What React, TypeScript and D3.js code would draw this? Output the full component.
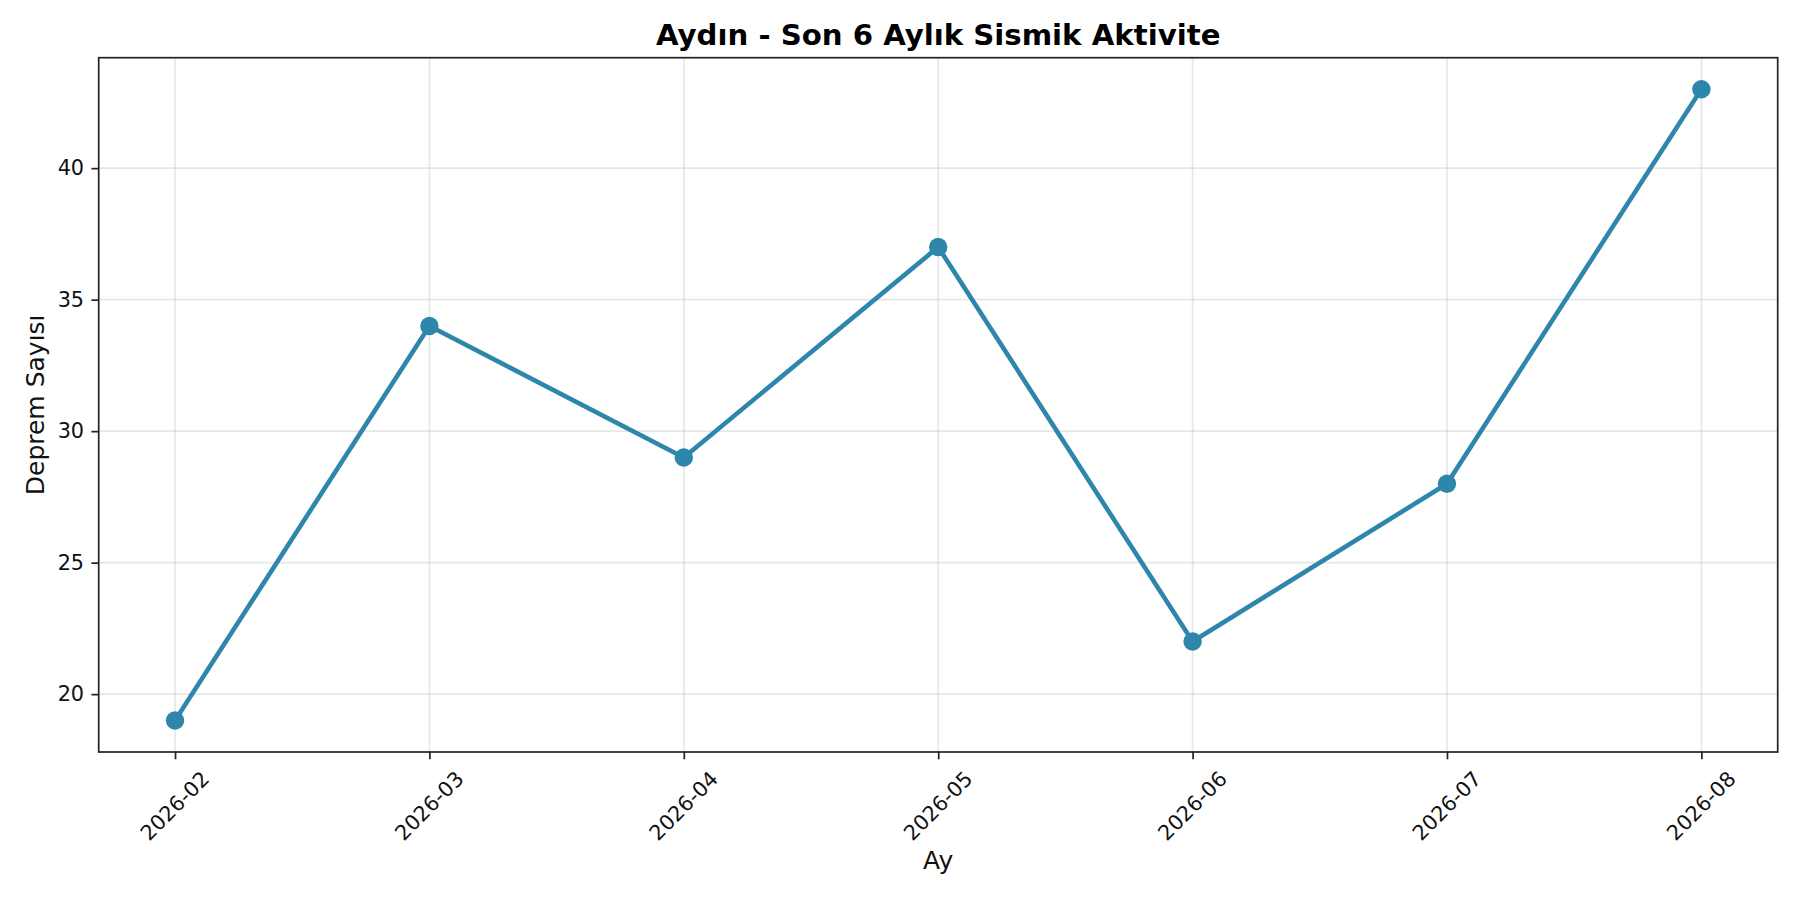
import React, { useRef, useEffect } from 'react';
import * as d3 from 'd3';

const months = ['2026-02', '2026-03', '2026-04', '2026-05', '2026-06', '2026-07', '2026-08'];
const counts = [19, 34, 29, 37, 22, 28, 43];
const yTicks = [20, 25, 30, 35, 40];

const WIDTH = 1800;
const HEIGHT = 900;
const LINE_COLOR = '#2E86AB';
const FONT = '"DejaVu Sans", Verdana, sans-serif';

const App: React.FC = () => {
  const svgRef = useRef<SVGSVGElement>(null);

  useEffect(() => {
    if (!svgRef.current) return;
    const svg = d3.select(svgRef.current);
    svg.selectAll('*').remove();

    const margin = { top: 57.7, right: 22.3, bottom: 148, left: 98.7 };
    const w = WIDTH - margin.left - margin.right;
    const h = HEIGHT - margin.top - margin.bottom;

    // months are evenly spaced categories, 5% padding on both ends
    const xScale = d3.scalePoint<string>()
      .domain(months)
      .range([0, w])
      .padding(0.3);

    const yMin = d3.min(counts)!;
    const yMax = d3.max(counts)!;
    const yPad = (yMax - yMin) * 0.05;
    const yScale = d3.scaleLinear()
      .domain([yMin - yPad, yMax + yPad])
      .range([h, 0]);

    const g = svg.append('g')
      .attr('transform', `translate(${margin.left},${margin.top})`);

    // Grid
    g.append('g')
      .selectAll('line')
      .data(yTicks)
      .join('line')
      .attr('x1', 0)
      .attr('x2', w)
      .attr('y1', d => yScale(d))
      .attr('y2', d => yScale(d))
      .attr('stroke', '#b0b0b0')
      .attr('stroke-opacity', 0.3)
      .attr('stroke-width', 1.7);

    g.append('g')
      .selectAll('line')
      .data(months)
      .join('line')
      .attr('x1', d => xScale(d)!)
      .attr('x2', d => xScale(d)!)
      .attr('y1', 0)
      .attr('y2', h)
      .attr('stroke', '#b0b0b0')
      .attr('stroke-opacity', 0.3)
      .attr('stroke-width', 1.7);

    // Line + markers
    const line = d3.line<number>()
      .x((d, i) => xScale(months[i])!)
      .y(d => yScale(d));

    g.append('path')
      .datum(counts)
      .attr('d', line)
      .attr('fill', 'none')
      .attr('stroke', LINE_COLOR)
      .attr('stroke-width', 4.6)
      .attr('stroke-linejoin', 'round')
      .attr('stroke-linecap', 'round');

    g.append('g')
      .selectAll('circle')
      .data(counts)
      .join('circle')
      .attr('cx', (d, i) => xScale(months[i])!)
      .attr('cy', d => yScale(d))
      .attr('r', 9.2)
      .attr('fill', LINE_COLOR);

    // Frame
    g.append('rect')
      .attr('x', 0)
      .attr('y', 0)
      .attr('width', w)
      .attr('height', h)
      .attr('fill', 'none')
      .attr('stroke', '#222')
      .attr('stroke-width', 1.7);

    // Y axis ticks
    const yAxis = g.append('g')
      .call(d3.axisLeft(yScale).tickValues(yTicks).tickSize(7.3).tickPadding(7.3).tickFormat(d3.format('d')));
    yAxis.select('.domain').remove();
    yAxis.selectAll('line').attr('stroke', '#222').attr('stroke-width', 1.7);
    yAxis.selectAll('text')
      .attr('font-size', '20.8px')
      .attr('font-family', FONT)
      .attr('fill', '#111');

    // X axis ticks (labels rotated 45°)
    const xAxis = g.append('g')
      .attr('transform', `translate(0,${h})`)
      .call(d3.axisBottom(xScale).tickSize(7.3).tickFormat(() => ''));
    xAxis.select('.domain').remove();
    xAxis.selectAll('line').attr('stroke', '#222').attr('stroke-width', 1.7);

    g.append('g')
      .selectAll('text')
      .data(months)
      .join('text')
      .attr('transform', d => `translate(${xScale(d)},${h + 54}) rotate(-45)`)
      .attr('text-anchor', 'middle')
      .attr('dominant-baseline', 'central')
      .attr('font-size', '20.8px')
      .attr('font-family', FONT)
      .attr('fill', '#111')
      .text(d => d);

    // Axis labels
    svg.append('text')
      .attr('x', margin.left + w / 2)
      .attr('y', 869)
      .attr('text-anchor', 'middle')
      .attr('font-size', '25px')
      .attr('font-family', FONT)
      .attr('fill', '#111')
      .text('Ay');

    svg.append('text')
      .attr('transform', `translate(44,${margin.top + h / 2}) rotate(-90)`)
      .attr('text-anchor', 'middle')
      .attr('font-size', '25px')
      .attr('font-family', FONT)
      .attr('fill', '#111')
      .text('Deprem Sayısı');

    // Title
    svg.append('text')
      .attr('x', margin.left + w / 2)
      .attr('y', 45)
      .attr('text-anchor', 'middle')
      .attr('font-size', '29.2px')
      .attr('font-weight', 700)
      .attr('font-family', FONT)
      .attr('fill', '#000')
      .text('Aydın - Son 6 Aylık Sismik Aktivite');
  }, []);

  return (
    <svg
      ref={svgRef}
      width={WIDTH}
      height={HEIGHT}
      style={{ position: 'absolute', left: 0, top: 0, background: '#fff' }}
    />
  );
};

export default App;
